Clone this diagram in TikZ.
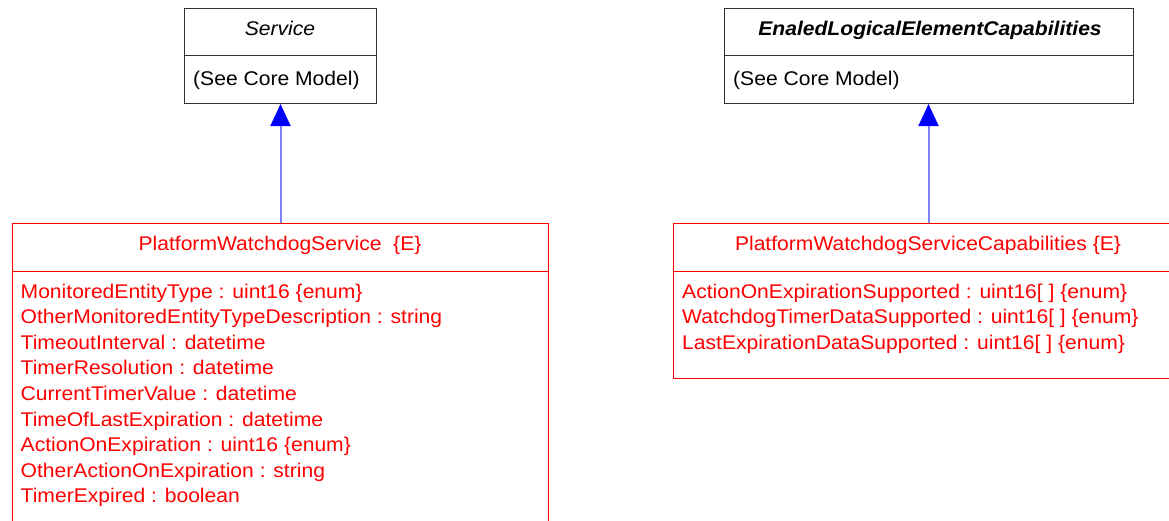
\documentclass[tikz,border=0pt]{standalone}
\usepackage{fontspec}
\setmainfont{Liberation Sans}[FakeStretch=1.065]
\usetikzlibrary{arrows.meta}
\definecolor{umlred}{RGB}{255,0,0}
\definecolor{umlblue}{RGB}{0,0,255}
\definecolor{linkblue}{RGB}{128,128,255}
\definecolor{boxgray}{RGB}{50,50,50}
\begin{document}
\begin{tikzpicture}[x=1pt,y=-1pt,
  txt/.style={inner sep=0pt, font=\fontsize{19.8}{25.6}\selectfont},
  gbox/.style={draw=boxgray, line width=1pt, inner sep=0pt, anchor=north west},
  rbox/.style={draw=umlred, line width=1pt, inner sep=0pt, anchor=north west},
  gdiv/.style={draw=boxgray, line width=1pt},
  rdiv/.style={draw=umlred, line width=1pt},
  gen/.style={draw=linkblue, line width=2pt, -{Triangle[length=22pt,width=20pt,color=umlblue]}}]
\useasboundingbox (0,0) rectangle (1169,520);
\clip (0,0) rectangle (1169,520);
% parent classes
\node[gbox, minimum width=192pt, minimum height=95pt] (svc) at (184,8) {};
\draw[gdiv] (184,55) -- (376,55);
\node[txt, anchor=base] (svct) at (280,35) {\itshape Service};
\node[txt, anchor=base west] (svca) at (193,85) {(See Core Model)};

\node[gbox, minimum width=409pt, minimum height=95pt] (ecap) at (723.5,8) {};
\draw[gdiv] (723.5,55) -- (1132.5,55);
\node[txt, anchor=base] (ecapt) at (930,35) {\bfseries\itshape EnaledLogicalElementCapabilities};
\node[txt, anchor=base west] (ecapa) at (733,85) {(See Core Model)};

% child classes
\node[rbox, minimum width=536pt, minimum height=330pt] (pws) at (12,223) {};
\draw[rdiv] (12,271) -- (548,271);
\node[txt, anchor=base, text=umlred] (pwst) at (280,250) {PlatformWatchdogService\ \ \{E\}};
\foreach \t [count=\i from 0] in {
  MonitoredEntityType : uint16 \{enum\},
  OtherMonitoredEntityTypeDescription : string,
  TimeoutInterval : datetime,
  TimerResolution : datetime,
  CurrentTimerValue : datetime,
  TimeOfLastExpiration : datetime,
  ActionOnExpiration : uint16 \{enum\},
  OtherActionOnExpiration : string,
  TimerExpired : boolean}
  \node[txt, anchor=base west, text=umlred] (pwsa\i) at (20.5,298+25.6*\i) {\t};

\node[rbox, minimum width=510pt, minimum height=155pt] (pwsc) at (673,223) {};
\draw[rdiv] (673,271) -- (1183,271);
\node[txt, anchor=base, text=umlred] (pwsct) at (928,250) {PlatformWatchdogServiceCapabilities \{E\}};
\foreach \t [count=\i from 0] in {
  ActionOnExpirationSupported : uint16[ ] \{enum\},
  WatchdogTimerDataSupported : uint16[ ] \{enum\},
  LastExpirationDataSupported : uint16[ ] \{enum\}}
  \node[txt, anchor=base west, text=umlred] (pwsca\i) at (682,298+25.6*\i) {\t};

% generalizations
\draw[gen] (pws.north) -- (pws.north |- svc.south);
\draw[gen] (pwsc.north) -- (pwsc.north |- ecap.south);
\end{tikzpicture}
\end{document}
